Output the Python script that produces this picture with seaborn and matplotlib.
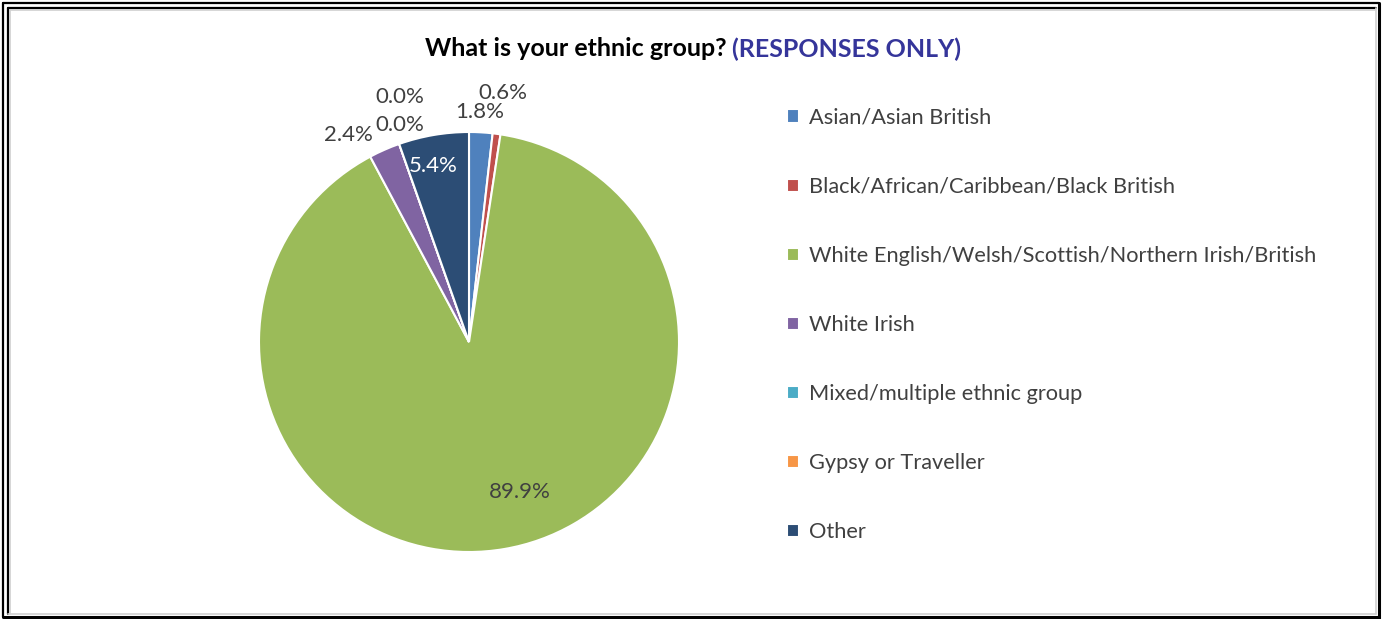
import matplotlib
matplotlib.use("Agg")
import matplotlib.pyplot as plt
from matplotlib.lines import Line2D
import seaborn as sns

# ==========================================
# DATA
# ==========================================
categories = [
    "Asian/Asian British",
    "Black/African/Caribbean/Black British",
    "White English/Welsh/Scottish/Northern Irish/British",
    "White Irish",
    "Mixed/multiple ethnic group",
    "Gypsy or Traveller",
    "Other",
]
shares = [1.8, 0.6, 89.9, 2.4, 0.0, 0.0, 5.4]
colours = ["#4F81BD", "#C0504D", "#9BBB59", "#8064A2", "#4BACC6", "#F79646", "#2C4D75"]
# label positions in pie-radius units (Excel outside-end style)
label_pos = [(0.05, 1.095), (0.16, 1.186), (0.24, -0.714), (-0.576, 0.986),
             (-0.33, 1.033), (-0.33, 1.167), (-0.17, 0.838)]
label_col = ["#404040", "#404040", "#404040", "#404040", "#404040", "#404040", "white"]

sns.set_theme(style="white")
plt.rcParams['font.family'] = ['Lato', 'DejaVu Sans']

W, H = 1382, 619
fig = plt.figure(figsize=(W / 100, H / 100), dpi=100)

# pie axes: centre (469, 342) px, radius 210 px
R = 210
cx, cy = 469, 342
ax = fig.add_axes([(cx - 1.3 * R) / W, (H - cy - 1.25 * R) / H, 2.6 * R / W, 2.6 * R / H])
wedges, _ = ax.pie(shares, colors=colours, startangle=90, counterclock=False,
                   radius=1, wedgeprops=dict(edgecolor="white", linewidth=1.5))
ax.set_xlim(-1.3, 1.3)
ax.set_ylim(-1.25, 1.35)
ax.set_aspect("auto")
ax.axis("off")

for val, (lx, ly), c in zip(shares, label_pos, label_col):
    ax.text(lx, ly, f"{val:.1f}%", ha="center", va="center", fontsize=16, color=c)

# legend
leg = fig.legend(wedges, categories, loc="upper left", bbox_to_anchor=(778 / W, 1 - 99 / H),
                 frameon=False, fontsize=15.7, labelspacing=2.25, handlelength=0.55,
                 handleheight=0.55, handletextpad=0.45, borderaxespad=0)
for t in leg.get_texts():
    t.set_color("#404040")

# two-colour title
renderer = fig.canvas.get_renderer()
t1 = fig.text(0, 1 - 49 / H, "What is your ethnic group? ", fontsize=18, fontweight="bold",
              color="black", va="center", ha="left")
t2 = fig.text(0, 1 - 49 / H, "(RESPONSES ONLY)", fontsize=18, fontweight="bold",
              color="#35359A", va="center", ha="left")
w1 = t1.get_window_extent(renderer).width
w2 = t2.get_window_extent(renderer).width
x0 = 693 - (w1 + w2) / 2
t1.set_x(x0 / W)
t2.set_x((x0 + w1) / W)

# frame: double line left/top, single right/bottom
def fline(xs, ys, lw, c="black"):
    fig.add_artist(Line2D([x / W for x in xs], [1 - y / H for y in ys], lw=lw, color=c,
                          transform=fig.transFigure))

fline([3, 1379], [3, 3], 1.6)
fline([3, 3], [3, 617], 1.6)
fline([8, 1376], [8, 8], 1.6)
fline([8, 8], [8, 614], 1.6)
fline([10, 1376], [10, 10], 1.2, "#d0d0d0")
fline([10, 10], [10, 614], 1.2, "#d0d0d0")
fline([1379, 1379], [3, 618], 2.2)
fline([3, 1379], [617, 617], 2.2)
fline([8, 1376], [614, 614], 1.2, "#d0d0d0")
fline([1376, 1376], [8, 614], 1.2, "#d0d0d0")

fig.savefig("out.png", dpi=100)
